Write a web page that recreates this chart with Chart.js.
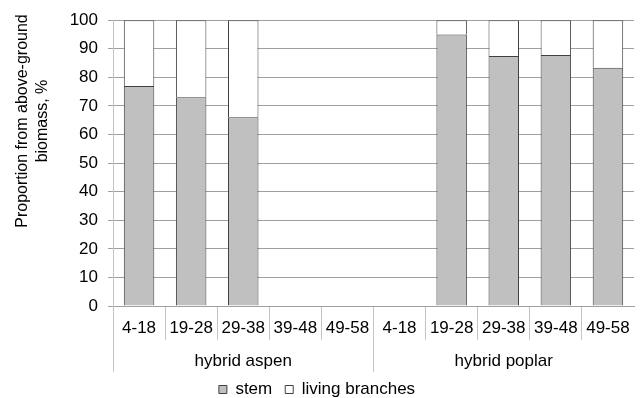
<!DOCTYPE html>
<html><head><meta charset="utf-8">
<script src="https://cdn.jsdelivr.net/npm/chart.js@4/dist/chart.umd.min.js"></script>
<style>html,body{margin:0;padding:0;background:#fff}</style>
</head><body>
<canvas id="c" width="641" height="398"></canvas>
<script>
const ageClasses = ['4-18','19-28','29-38','39-48','49-58','4-18','19-28','29-38','39-48','49-58'];
const groups = ['hybrid aspen','hybrid poplar'];
const stem = [77, 73, 66, null, null, null, 95, 87.5, 87.8, 83.4];
const livingBranches = [23, 27, 34, null, null, null, 5, 12.5, 12.2, 16.6];
const seriesNames = ['stem', 'living branches'];
const yTitleLines = ['Proportion from above-ground', 'biomass, %'];

const FONT = '"Liberation Sans", Arial, sans-serif';
const GRID = '#a0a0a0';
const AXIS = '#c4c4c4';

const yTitlePlugin = {
  id: 'yTitle',
  afterDraw(chart) {
    const ctx = chart.ctx;
    ctx.save();
    ctx.font = '16px ' + FONT;
    ctx.fillStyle = '#000';
    ctx.textAlign = 'center';
    ctx.textBaseline = 'middle';
    const cy = 121;
    const xs = [23, 43];
    yTitleLines.forEach((t, i) => {
      ctx.save();
      ctx.translate(xs[i], cy);
      ctx.rotate(-Math.PI / 2);
      ctx.fillText(t, 0, 0);
      ctx.restore();
    });
    ctx.restore();
  }
};

const sepColor = (c) => c.type === 'tick' ? AXIS : 'rgba(0,0,0,0)';

new Chart(document.getElementById('c'), {
  type: 'bar',
  data: {
    labels: ageClasses,
    datasets: [
      { label: seriesNames[0], data: stem, backgroundColor: '#c0c0c0', borderColor: '#404040', borderWidth: 1 },
      { label: seriesNames[1], data: livingBranches, backgroundColor: '#ffffff', borderColor: '#404040', borderWidth: 1 }
    ]
  },
  options: {
    responsive: false,
    animation: false,
    devicePixelRatio: 1,
    barPercentage: 0.585,
    categoryPercentage: 1.0,
    layout: { padding: { left: 0, right: 7, top: 20, bottom: -10 } },
    plugins: {
      tooltip: { enabled: false },
      title: { display: false },
      legend: {
        position: 'bottom',
        labels: { boxWidth: 8, boxHeight: 8, padding: 13, color: '#000', font: { family: FONT, size: 17 } }
      }
    },
    scales: {
      x: {
        stacked: true,
        weight: 0,
        grid: { display: true, drawOnChartArea: false, drawTicks: true, tickLength: 34, offset: true, color: sepColor },
        border: { display: true, color: GRID },
        ticks: { color: '#000', font: { family: FONT, size: 17 }, mirror: true, padding: -33, maxRotation: 0, autoSkip: false },
        afterFit: (s) => { s.height = 0; }
      },
      x2: {
        type: 'category',
        axis: 'x',
        position: 'bottom',
        labels: groups,
        weight: 1,
        offset: true,
        grid: { display: true, drawOnChartArea: false, drawTicks: true, tickLength: 66, offset: true, color: sepColor },
        border: { display: false },
        ticks: { color: '#000', font: { family: FONT, size: 17 }, mirror: true, padding: -66, maxRotation: 0, autoSkip: false },
        afterFit: (s) => { s.height = 62; }
      },
      y: {
        stacked: true,
        min: 0,
        max: 100,
        ticks: { stepSize: 10, color: '#000', font: { family: FONT, size: 17 }, padding: 10 },
        grid: { color: GRID, tickLength: 5, drawTicks: true },
        border: { display: true, color: AXIS },
        afterFit: (s) => { s.width = 113; }
      }
    }
  },
  plugins: [yTitlePlugin]
});
</script>
</body></html>
